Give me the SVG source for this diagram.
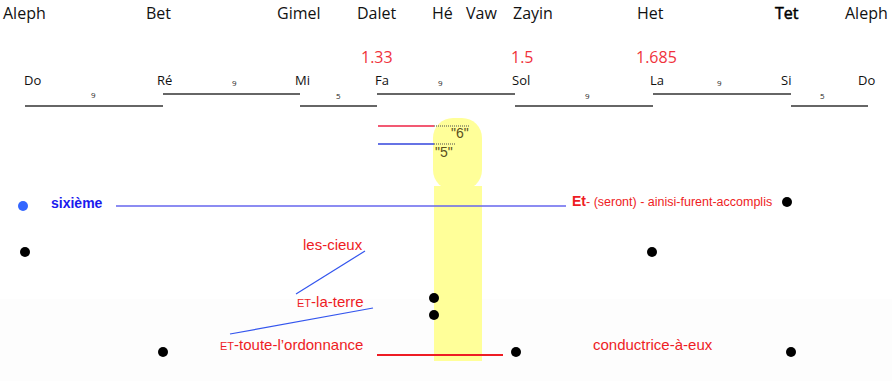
<svg xmlns="http://www.w3.org/2000/svg" width="892" height="381" viewBox="0 0 892 381">
<style>
.top{font-family:"Open Sans","Liberation Sans",sans-serif;font-size:16px;fill:#111}
.note{font-family:"Open Sans","Liberation Sans",sans-serif;font-size:13px;fill:#111}
.num{font-family:"Open Sans","Liberation Sans",sans-serif;font-size:16px;fill:#f0323c}
.int{font-family:"Open Sans","Liberation Sans",sans-serif;font-size:8px;fill:#222}
.seg{stroke:#333;stroke-width:1.5;fill:none}
.red{font-family:"Liberation Sans",Arial,sans-serif;font-size:15px;fill:#ee1c24}
.dot{fill:#000}
.q{font-family:"Liberation Sans",Arial,sans-serif;font-size:14px;fill:#5a5020}
</style>
<rect x="0" y="0" width="892" height="381" fill="#fff"/>
<rect x="0" y="299" width="892" height="82" fill="#fdfdfd"/>
<g id="band">
<rect x="433" y="118" width="49" height="72" rx="20" fill="#ffff99"/>
<rect x="434" y="186" width="48" height="175" fill="#ffff99"/>
</g>
<g id="letters">
<text class="top" x="3" y="19">Aleph</text>
<text class="top" x="146" y="19">Bet</text>
<text class="top" x="277" y="19">Gimel</text>
<text class="top" x="357" y="19">Dalet</text>
<text class="top" x="432" y="19">Hé</text>
<text class="top" x="466" y="19">Vaw</text>
<text class="top" x="513" y="19">Zayin</text>
<text class="top" x="637" y="19">Het</text>
<text class="top" x="775" y="19" style="fill:#000;stroke:#000;stroke-width:0.5">Tet</text>
<text class="top" x="845" y="19">Aleph</text>
</g>
<g id="ratios">
<text class="num" x="361" y="63">1.33</text>
<text class="num" x="511" y="63">1.5</text>
<text class="num" x="636" y="63">1.685</text>
</g>
<g id="notes">
<text class="note" x="24" y="85">Do</text>
<text class="note" x="157" y="85">Ré</text>
<text class="note" x="295" y="85">Mi</text>
<text class="note" x="375" y="85">Fa</text>
<text class="note" x="512" y="85">Sol</text>
<text class="note" x="650" y="85">La</text>
<text class="note" x="781" y="85">Si</text>
<text class="note" x="858" y="85">Do</text>
</g>
<g id="connectors">
<line class="seg" x1="25" y1="106" x2="163" y2="106"/>
<line class="seg" x1="163" y1="94" x2="300" y2="94"/>
<line class="seg" x1="300" y1="106" x2="377" y2="106"/>
<line class="seg" x1="377" y1="94" x2="515" y2="94"/>
<line class="seg" x1="515" y1="106" x2="653" y2="106"/>
<line class="seg" x1="653" y1="94" x2="791" y2="94"/>
<line class="seg" x1="791" y1="106" x2="868" y2="106"/>
<line x1="378" y1="126" x2="434" y2="126" stroke="#ee2244" stroke-width="1.6"/>
<line x1="434" y1="126" x2="470" y2="126" stroke="#886" stroke-width="1.6" stroke-dasharray="1 1"/>
<line x1="378" y1="144" x2="434" y2="144" stroke="#3344dd" stroke-width="1.6"/>
<line x1="434" y1="144" x2="455" y2="144" stroke="#886" stroke-width="1.6" stroke-dasharray="1 1"/>
<line x1="116" y1="206" x2="566" y2="206" stroke="#6666ee" stroke-width="1.3"/>
<line x1="365" y1="251" x2="296" y2="294" stroke="#3355ee" stroke-width="1.2"/>
<line x1="373" y1="308" x2="230" y2="334" stroke="#3355ee" stroke-width="1.2"/>
<line x1="377" y1="355" x2="503" y2="355" stroke="#ee1c24" stroke-width="2"/>
</g>
<g id="intervals">
<text class="int" x="91" y="98">9</text>
<text class="int" x="232" y="86">9</text>
<text class="int" x="336" y="99">5</text>
<text class="int" x="438" y="86">9</text>
<text class="int" x="585" y="99">9</text>
<text class="int" x="717" y="86">9</text>
<text class="int" x="820" y="99">5</text>
</g>
<g id="quotes">
<text class="q" x="451" y="138">"6"</text>
<text class="q" x="435" y="157">"5"</text>
</g>
<g id="sixieme">
<circle cx="23" cy="206" r="5" fill="#3366ff"/>
<text x="51" y="208" font-family="Liberation Sans,Arial,sans-serif" font-size="14" font-weight="bold" fill="#1a1aee">sixième</text>
</g>
<g id="accomplis">
<text x="572" y="206" font-family="Liberation Sans,Arial,sans-serif" font-size="12.5" fill="#ee1c24"><tspan font-weight="bold" font-size="14">Et</tspan>- (seront) - ainisi-furent-accomplis</text>
<circle class="dot" cx="787" cy="202" r="5"/>
</g>
<g id="cieux">
<circle class="dot" cx="25" cy="252" r="5"/>
<text class="red" x="303" y="250">les-cieux</text>
<circle class="dot" cx="652" cy="252" r="5"/>
</g>
<g id="terre">
<text class="red" x="297" y="307"><tspan font-size="11">ET</tspan>-la-terre</text>
<circle class="dot" cx="434" cy="298" r="5"/>
<circle class="dot" cx="434" cy="315" r="5"/>
</g>
<g id="ordonnance">
<circle class="dot" cx="163" cy="352" r="5"/>
<text class="red" x="220" y="350"><tspan font-size="11">ET</tspan>-toute-l’ordonnance</text>
<circle class="dot" cx="516" cy="352" r="5"/>
</g>
<g id="conductrice">
<text class="red" x="593" y="350">conductrice-à-eux</text>
<circle class="dot" cx="791" cy="352" r="5"/>
</g>
</svg>
